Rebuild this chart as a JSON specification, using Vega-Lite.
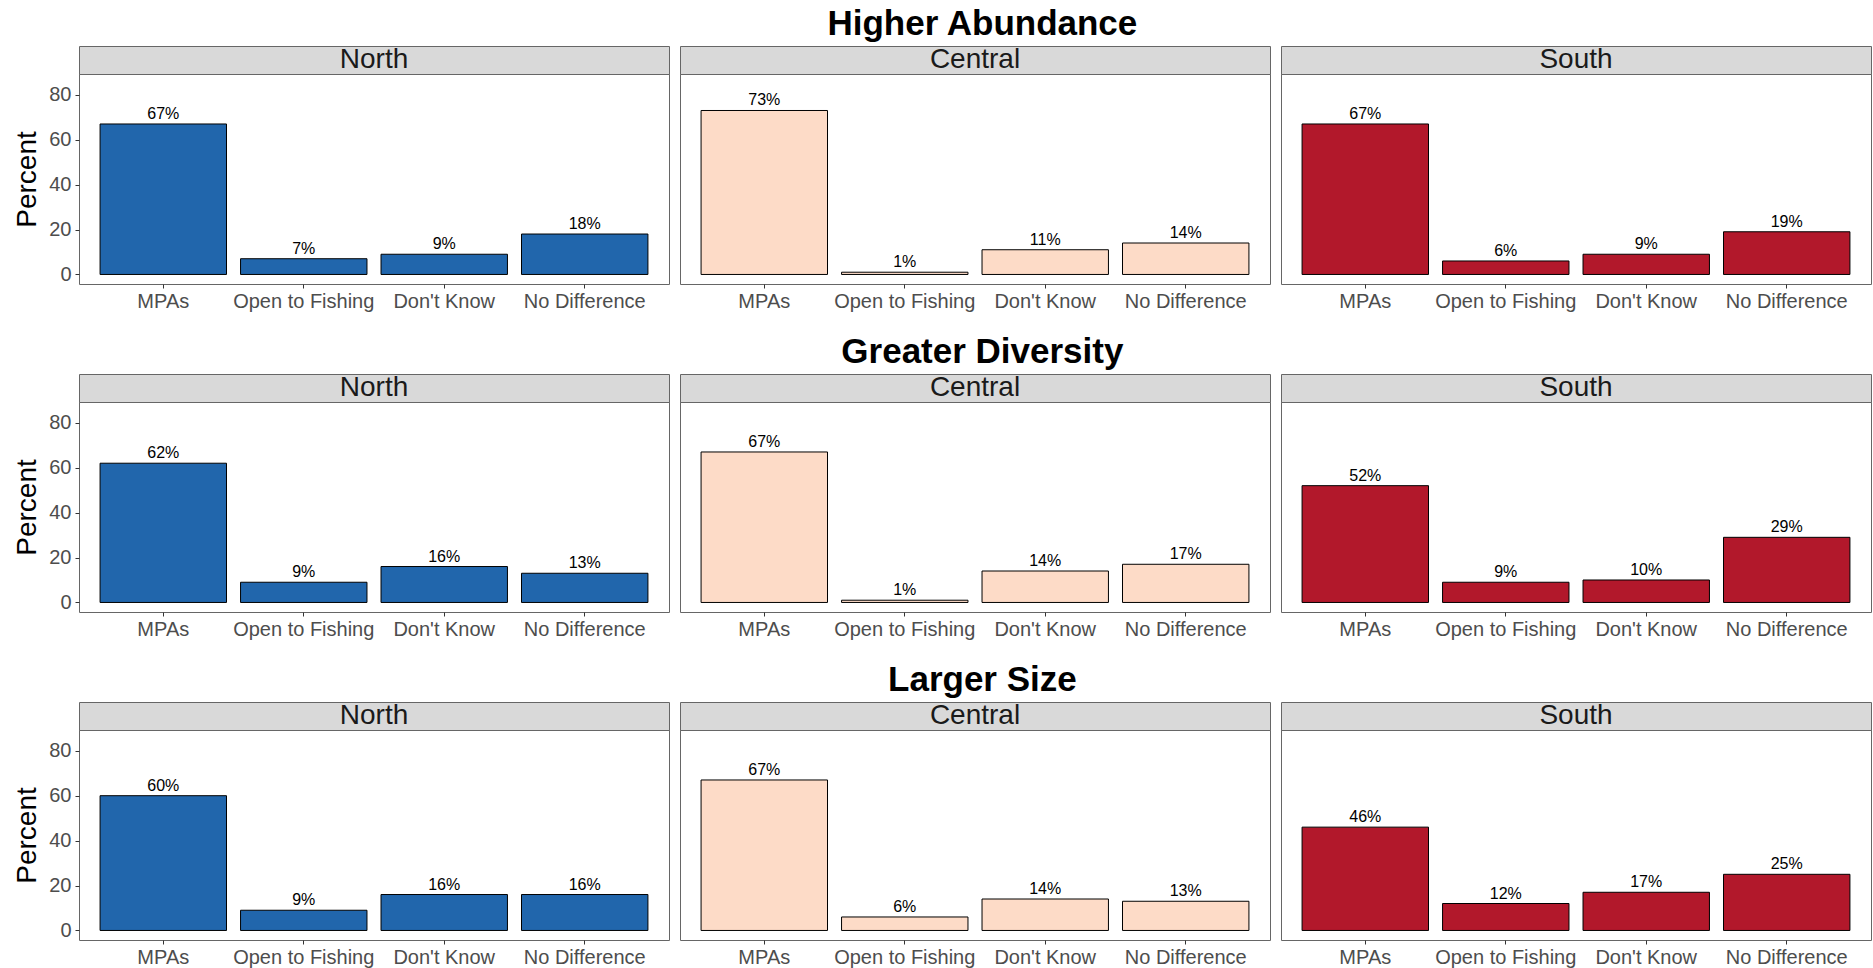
{
  "$schema": "https://vega.github.io/schema/vega-lite/v6.json",
  "background": "white",
  "padding": {"left": 13, "top": 6, "right": 0, "bottom": 0},
  "autosize": {"type": "pad"},
  "datasets": {
    "survey": [
      {"metric": "Higher Abundance", "region": "North", "category": "MPAs", "value": 67, "pct": "67%"},
      {"metric": "Higher Abundance", "region": "North", "category": "Open to Fishing", "value": 7, "pct": "7%"},
      {"metric": "Higher Abundance", "region": "North", "category": "Don't Know", "value": 9, "pct": "9%"},
      {"metric": "Higher Abundance", "region": "North", "category": "No Difference", "value": 18, "pct": "18%"},
      {"metric": "Higher Abundance", "region": "Central", "category": "MPAs", "value": 73, "pct": "73%"},
      {"metric": "Higher Abundance", "region": "Central", "category": "Open to Fishing", "value": 1, "pct": "1%"},
      {"metric": "Higher Abundance", "region": "Central", "category": "Don't Know", "value": 11, "pct": "11%"},
      {"metric": "Higher Abundance", "region": "Central", "category": "No Difference", "value": 14, "pct": "14%"},
      {"metric": "Higher Abundance", "region": "South", "category": "MPAs", "value": 67, "pct": "67%"},
      {"metric": "Higher Abundance", "region": "South", "category": "Open to Fishing", "value": 6, "pct": "6%"},
      {"metric": "Higher Abundance", "region": "South", "category": "Don't Know", "value": 9, "pct": "9%"},
      {"metric": "Higher Abundance", "region": "South", "category": "No Difference", "value": 19, "pct": "19%"},
      {"metric": "Greater Diversity", "region": "North", "category": "MPAs", "value": 62, "pct": "62%"},
      {"metric": "Greater Diversity", "region": "North", "category": "Open to Fishing", "value": 9, "pct": "9%"},
      {"metric": "Greater Diversity", "region": "North", "category": "Don't Know", "value": 16, "pct": "16%"},
      {"metric": "Greater Diversity", "region": "North", "category": "No Difference", "value": 13, "pct": "13%"},
      {"metric": "Greater Diversity", "region": "Central", "category": "MPAs", "value": 67, "pct": "67%"},
      {"metric": "Greater Diversity", "region": "Central", "category": "Open to Fishing", "value": 1, "pct": "1%"},
      {"metric": "Greater Diversity", "region": "Central", "category": "Don't Know", "value": 14, "pct": "14%"},
      {"metric": "Greater Diversity", "region": "Central", "category": "No Difference", "value": 17, "pct": "17%"},
      {"metric": "Greater Diversity", "region": "South", "category": "MPAs", "value": 52, "pct": "52%"},
      {"metric": "Greater Diversity", "region": "South", "category": "Open to Fishing", "value": 9, "pct": "9%"},
      {"metric": "Greater Diversity", "region": "South", "category": "Don't Know", "value": 10, "pct": "10%"},
      {"metric": "Greater Diversity", "region": "South", "category": "No Difference", "value": 29, "pct": "29%"},
      {"metric": "Larger Size", "region": "North", "category": "MPAs", "value": 60, "pct": "60%"},
      {"metric": "Larger Size", "region": "North", "category": "Open to Fishing", "value": 9, "pct": "9%"},
      {"metric": "Larger Size", "region": "North", "category": "Don't Know", "value": 16, "pct": "16%"},
      {"metric": "Larger Size", "region": "North", "category": "No Difference", "value": 16, "pct": "16%"},
      {"metric": "Larger Size", "region": "Central", "category": "MPAs", "value": 67, "pct": "67%"},
      {"metric": "Larger Size", "region": "Central", "category": "Open to Fishing", "value": 6, "pct": "6%"},
      {"metric": "Larger Size", "region": "Central", "category": "Don't Know", "value": 14, "pct": "14%"},
      {"metric": "Larger Size", "region": "Central", "category": "No Difference", "value": 13, "pct": "13%"},
      {"metric": "Larger Size", "region": "South", "category": "MPAs", "value": 46, "pct": "46%"},
      {"metric": "Larger Size", "region": "South", "category": "Open to Fishing", "value": 12, "pct": "12%"},
      {"metric": "Larger Size", "region": "South", "category": "Don't Know", "value": 17, "pct": "17%"},
      {"metric": "Larger Size", "region": "South", "category": "No Difference", "value": 25, "pct": "25%"}
    ]
  },
  "config": {
    "font": "Liberation Sans",
    "axis": {"labelFont": "Liberation Sans", "titleFont": "Liberation Sans", "domain": false, "grid": false, "tickColor": "#333333", "tickSize": 4, "labelColor": "#4d4d4d", "labelFontSize": 20, "labelPadding": 4},
    "axisX": {"labelOverlap": false, "labelFlush": false, "labelBound": false, "labelAngle": 0, "labelPadding": 3},
    "text": {"font": "Liberation Sans"},
    "title": {"font": "Liberation Sans"}
  },
  "vconcat": [
    {
      "title": {"text": "Higher Abundance", "fontSize": 35, "fontWeight": "bold", "color": "black", "anchor": "middle", "offset": 4, "dx": 40},
      "spacing": 9,
      "hconcat": [
        {"spacing": 0, "bounds": "flush", "vconcat": [
          {"width": 590, "height": 28, "data": {"name": "survey"}, "transform": [{"filter": "datum.metric === 'Higher Abundance' && datum.region === 'North' && datum.category === 'MPAs'"}], "view": {"fill": "#d9d9d9", "stroke": "#666666"}, "mark": {"type": "text", "fontSize": 28, "color": "#1a1a1a", "baseline": "middle", "align": "center"}, "encoding": {"text": {"field": "region"}}},
          {"width": 590, "height": 210, "data": {"name": "survey"}, "transform": [{"filter": "datum.metric === 'Higher Abundance' && datum.region === 'North'"}], "view": {"stroke": "#666666"},
           "encoding": {
             "x": {"field": "category", "type": "nominal", "sort": ["MPAs", "Open to Fishing", "Don't Know", "No Difference"], "scale": {"paddingInner": 0.1, "paddingOuter": 0.15}, "axis": {"title": null}},
             "y": {"field": "value", "type": "quantitative", "scale": {"domain": [-4.25, 89.25], "nice": false, "zero": false}, "axis": {"title": "Percent", "values": [0, 20, 40, 60, 80], "titleFontSize": 28, "titleFontWeight": "normal", "titleColor": "black", "titlePadding": 7}}
           },
           "layer": [
             {"mark": {"type": "bar", "stroke": "black", "strokeWidth": 1}, "encoding": {"y2": {"datum": 0}, "fill": {"field": "region", "type": "nominal", "scale": {"domain": ["North", "Central", "South"], "range": ["#2166ac", "#fddbc7", "#b2182b"]}, "legend": null}}},
             {"mark": {"type": "text", "baseline": "alphabetic", "dy": -5, "fontSize": 16, "color": "black"}, "encoding": {"text": {"field": "pct"}}}
           ]}
        ]},
        {"spacing": 0, "bounds": "flush", "vconcat": [
          {"width": 590, "height": 28, "data": {"name": "survey"}, "transform": [{"filter": "datum.metric === 'Higher Abundance' && datum.region === 'Central' && datum.category === 'MPAs'"}], "view": {"fill": "#d9d9d9", "stroke": "#666666"}, "mark": {"type": "text", "fontSize": 28, "color": "#1a1a1a", "baseline": "middle", "align": "center"}, "encoding": {"text": {"field": "region"}}},
          {"width": 590, "height": 210, "data": {"name": "survey"}, "transform": [{"filter": "datum.metric === 'Higher Abundance' && datum.region === 'Central'"}], "view": {"stroke": "#666666"},
           "encoding": {
             "x": {"field": "category", "type": "nominal", "sort": ["MPAs", "Open to Fishing", "Don't Know", "No Difference"], "scale": {"paddingInner": 0.1, "paddingOuter": 0.15}, "axis": {"title": null}},
             "y": {"field": "value", "type": "quantitative", "scale": {"domain": [-4.25, 89.25], "nice": false, "zero": false}, "axis": null}
           },
           "layer": [
             {"mark": {"type": "bar", "stroke": "black", "strokeWidth": 1}, "encoding": {"y2": {"datum": 0}, "fill": {"field": "region", "type": "nominal", "scale": {"domain": ["North", "Central", "South"], "range": ["#2166ac", "#fddbc7", "#b2182b"]}, "legend": null}}},
             {"mark": {"type": "text", "baseline": "alphabetic", "dy": -5, "fontSize": 16, "color": "black"}, "encoding": {"text": {"field": "pct"}}}
           ]}
        ]},
        {"spacing": 0, "bounds": "flush", "vconcat": [
          {"width": 590, "height": 28, "data": {"name": "survey"}, "transform": [{"filter": "datum.metric === 'Higher Abundance' && datum.region === 'South' && datum.category === 'MPAs'"}], "view": {"fill": "#d9d9d9", "stroke": "#666666"}, "mark": {"type": "text", "fontSize": 28, "color": "#1a1a1a", "baseline": "middle", "align": "center"}, "encoding": {"text": {"field": "region"}}},
          {"width": 590, "height": 210, "data": {"name": "survey"}, "transform": [{"filter": "datum.metric === 'Higher Abundance' && datum.region === 'South'"}], "view": {"stroke": "#666666"},
           "encoding": {
             "x": {"field": "category", "type": "nominal", "sort": ["MPAs", "Open to Fishing", "Don't Know", "No Difference"], "scale": {"paddingInner": 0.1, "paddingOuter": 0.15}, "axis": {"title": null}},
             "y": {"field": "value", "type": "quantitative", "scale": {"domain": [-4.25, 89.25], "nice": false, "zero": false}, "axis": null}
           },
           "layer": [
             {"mark": {"type": "bar", "stroke": "black", "strokeWidth": 1}, "encoding": {"y2": {"datum": 0}, "fill": {"field": "region", "type": "nominal", "scale": {"domain": ["North", "Central", "South"], "range": ["#2166ac", "#fddbc7", "#b2182b"]}, "legend": null}}},
             {"mark": {"type": "text", "baseline": "alphabetic", "dy": -5, "fontSize": 16, "color": "black"}, "encoding": {"text": {"field": "pct"}}}
           ]}
        ]}
      ]
    },
    {
      "title": {"text": "Greater Diversity", "fontSize": 35, "fontWeight": "bold", "color": "black", "anchor": "middle", "offset": 4, "dx": 40},
      "spacing": 9,
      "hconcat": [
        {"spacing": 0, "bounds": "flush", "vconcat": [
          {"width": 590, "height": 28, "data": {"name": "survey"}, "transform": [{"filter": "datum.metric === 'Greater Diversity' && datum.region === 'North' && datum.category === 'MPAs'"}], "view": {"fill": "#d9d9d9", "stroke": "#666666"}, "mark": {"type": "text", "fontSize": 28, "color": "#1a1a1a", "baseline": "middle", "align": "center"}, "encoding": {"text": {"field": "region"}}},
          {"width": 590, "height": 210, "data": {"name": "survey"}, "transform": [{"filter": "datum.metric === 'Greater Diversity' && datum.region === 'North'"}], "view": {"stroke": "#666666"},
           "encoding": {
             "x": {"field": "category", "type": "nominal", "sort": ["MPAs", "Open to Fishing", "Don't Know", "No Difference"], "scale": {"paddingInner": 0.1, "paddingOuter": 0.15}, "axis": {"title": null}},
             "y": {"field": "value", "type": "quantitative", "scale": {"domain": [-4.25, 89.25], "nice": false, "zero": false}, "axis": {"title": "Percent", "values": [0, 20, 40, 60, 80], "titleFontSize": 28, "titleFontWeight": "normal", "titleColor": "black", "titlePadding": 7}}
           },
           "layer": [
             {"mark": {"type": "bar", "stroke": "black", "strokeWidth": 1}, "encoding": {"y2": {"datum": 0}, "fill": {"field": "region", "type": "nominal", "scale": {"domain": ["North", "Central", "South"], "range": ["#2166ac", "#fddbc7", "#b2182b"]}, "legend": null}}},
             {"mark": {"type": "text", "baseline": "alphabetic", "dy": -5, "fontSize": 16, "color": "black"}, "encoding": {"text": {"field": "pct"}}}
           ]}
        ]},
        {"spacing": 0, "bounds": "flush", "vconcat": [
          {"width": 590, "height": 28, "data": {"name": "survey"}, "transform": [{"filter": "datum.metric === 'Greater Diversity' && datum.region === 'Central' && datum.category === 'MPAs'"}], "view": {"fill": "#d9d9d9", "stroke": "#666666"}, "mark": {"type": "text", "fontSize": 28, "color": "#1a1a1a", "baseline": "middle", "align": "center"}, "encoding": {"text": {"field": "region"}}},
          {"width": 590, "height": 210, "data": {"name": "survey"}, "transform": [{"filter": "datum.metric === 'Greater Diversity' && datum.region === 'Central'"}], "view": {"stroke": "#666666"},
           "encoding": {
             "x": {"field": "category", "type": "nominal", "sort": ["MPAs", "Open to Fishing", "Don't Know", "No Difference"], "scale": {"paddingInner": 0.1, "paddingOuter": 0.15}, "axis": {"title": null}},
             "y": {"field": "value", "type": "quantitative", "scale": {"domain": [-4.25, 89.25], "nice": false, "zero": false}, "axis": null}
           },
           "layer": [
             {"mark": {"type": "bar", "stroke": "black", "strokeWidth": 1}, "encoding": {"y2": {"datum": 0}, "fill": {"field": "region", "type": "nominal", "scale": {"domain": ["North", "Central", "South"], "range": ["#2166ac", "#fddbc7", "#b2182b"]}, "legend": null}}},
             {"mark": {"type": "text", "baseline": "alphabetic", "dy": -5, "fontSize": 16, "color": "black"}, "encoding": {"text": {"field": "pct"}}}
           ]}
        ]},
        {"spacing": 0, "bounds": "flush", "vconcat": [
          {"width": 590, "height": 28, "data": {"name": "survey"}, "transform": [{"filter": "datum.metric === 'Greater Diversity' && datum.region === 'South' && datum.category === 'MPAs'"}], "view": {"fill": "#d9d9d9", "stroke": "#666666"}, "mark": {"type": "text", "fontSize": 28, "color": "#1a1a1a", "baseline": "middle", "align": "center"}, "encoding": {"text": {"field": "region"}}},
          {"width": 590, "height": 210, "data": {"name": "survey"}, "transform": [{"filter": "datum.metric === 'Greater Diversity' && datum.region === 'South'"}], "view": {"stroke": "#666666"},
           "encoding": {
             "x": {"field": "category", "type": "nominal", "sort": ["MPAs", "Open to Fishing", "Don't Know", "No Difference"], "scale": {"paddingInner": 0.1, "paddingOuter": 0.15}, "axis": {"title": null}},
             "y": {"field": "value", "type": "quantitative", "scale": {"domain": [-4.25, 89.25], "nice": false, "zero": false}, "axis": null}
           },
           "layer": [
             {"mark": {"type": "bar", "stroke": "black", "strokeWidth": 1}, "encoding": {"y2": {"datum": 0}, "fill": {"field": "region", "type": "nominal", "scale": {"domain": ["North", "Central", "South"], "range": ["#2166ac", "#fddbc7", "#b2182b"]}, "legend": null}}},
             {"mark": {"type": "text", "baseline": "alphabetic", "dy": -5, "fontSize": 16, "color": "black"}, "encoding": {"text": {"field": "pct"}}}
           ]}
        ]}
      ]
    },
    {
      "title": {"text": "Larger Size", "fontSize": 35, "fontWeight": "bold", "color": "black", "anchor": "middle", "offset": 4, "dx": 40},
      "spacing": 9,
      "hconcat": [
        {"spacing": 0, "bounds": "flush", "vconcat": [
          {"width": 590, "height": 28, "data": {"name": "survey"}, "transform": [{"filter": "datum.metric === 'Larger Size' && datum.region === 'North' && datum.category === 'MPAs'"}], "view": {"fill": "#d9d9d9", "stroke": "#666666"}, "mark": {"type": "text", "fontSize": 28, "color": "#1a1a1a", "baseline": "middle", "align": "center"}, "encoding": {"text": {"field": "region"}}},
          {"width": 590, "height": 210, "data": {"name": "survey"}, "transform": [{"filter": "datum.metric === 'Larger Size' && datum.region === 'North'"}], "view": {"stroke": "#666666"},
           "encoding": {
             "x": {"field": "category", "type": "nominal", "sort": ["MPAs", "Open to Fishing", "Don't Know", "No Difference"], "scale": {"paddingInner": 0.1, "paddingOuter": 0.15}, "axis": {"title": null}},
             "y": {"field": "value", "type": "quantitative", "scale": {"domain": [-4.25, 89.25], "nice": false, "zero": false}, "axis": {"title": "Percent", "values": [0, 20, 40, 60, 80], "titleFontSize": 28, "titleFontWeight": "normal", "titleColor": "black", "titlePadding": 7}}
           },
           "layer": [
             {"mark": {"type": "bar", "stroke": "black", "strokeWidth": 1}, "encoding": {"y2": {"datum": 0}, "fill": {"field": "region", "type": "nominal", "scale": {"domain": ["North", "Central", "South"], "range": ["#2166ac", "#fddbc7", "#b2182b"]}, "legend": null}}},
             {"mark": {"type": "text", "baseline": "alphabetic", "dy": -5, "fontSize": 16, "color": "black"}, "encoding": {"text": {"field": "pct"}}}
           ]}
        ]},
        {"spacing": 0, "bounds": "flush", "vconcat": [
          {"width": 590, "height": 28, "data": {"name": "survey"}, "transform": [{"filter": "datum.metric === 'Larger Size' && datum.region === 'Central' && datum.category === 'MPAs'"}], "view": {"fill": "#d9d9d9", "stroke": "#666666"}, "mark": {"type": "text", "fontSize": 28, "color": "#1a1a1a", "baseline": "middle", "align": "center"}, "encoding": {"text": {"field": "region"}}},
          {"width": 590, "height": 210, "data": {"name": "survey"}, "transform": [{"filter": "datum.metric === 'Larger Size' && datum.region === 'Central'"}], "view": {"stroke": "#666666"},
           "encoding": {
             "x": {"field": "category", "type": "nominal", "sort": ["MPAs", "Open to Fishing", "Don't Know", "No Difference"], "scale": {"paddingInner": 0.1, "paddingOuter": 0.15}, "axis": {"title": null}},
             "y": {"field": "value", "type": "quantitative", "scale": {"domain": [-4.25, 89.25], "nice": false, "zero": false}, "axis": null}
           },
           "layer": [
             {"mark": {"type": "bar", "stroke": "black", "strokeWidth": 1}, "encoding": {"y2": {"datum": 0}, "fill": {"field": "region", "type": "nominal", "scale": {"domain": ["North", "Central", "South"], "range": ["#2166ac", "#fddbc7", "#b2182b"]}, "legend": null}}},
             {"mark": {"type": "text", "baseline": "alphabetic", "dy": -5, "fontSize": 16, "color": "black"}, "encoding": {"text": {"field": "pct"}}}
           ]}
        ]},
        {"spacing": 0, "bounds": "flush", "vconcat": [
          {"width": 590, "height": 28, "data": {"name": "survey"}, "transform": [{"filter": "datum.metric === 'Larger Size' && datum.region === 'South' && datum.category === 'MPAs'"}], "view": {"fill": "#d9d9d9", "stroke": "#666666"}, "mark": {"type": "text", "fontSize": 28, "color": "#1a1a1a", "baseline": "middle", "align": "center"}, "encoding": {"text": {"field": "region"}}},
          {"width": 590, "height": 210, "data": {"name": "survey"}, "transform": [{"filter": "datum.metric === 'Larger Size' && datum.region === 'South'"}], "view": {"stroke": "#666666"},
           "encoding": {
             "x": {"field": "category", "type": "nominal", "sort": ["MPAs", "Open to Fishing", "Don't Know", "No Difference"], "scale": {"paddingInner": 0.1, "paddingOuter": 0.15}, "axis": {"title": null}},
             "y": {"field": "value", "type": "quantitative", "scale": {"domain": [-4.25, 89.25], "nice": false, "zero": false}, "axis": null}
           },
           "layer": [
             {"mark": {"type": "bar", "stroke": "black", "strokeWidth": 1}, "encoding": {"y2": {"datum": 0}, "fill": {"field": "region", "type": "nominal", "scale": {"domain": ["North", "Central", "South"], "range": ["#2166ac", "#fddbc7", "#b2182b"]}, "legend": null}}},
             {"mark": {"type": "text", "baseline": "alphabetic", "dy": -5, "fontSize": 16, "color": "black"}, "encoding": {"text": {"field": "pct"}}}
           ]}
        ]}
      ]
    }
  ],
  "spacing": 22
}
